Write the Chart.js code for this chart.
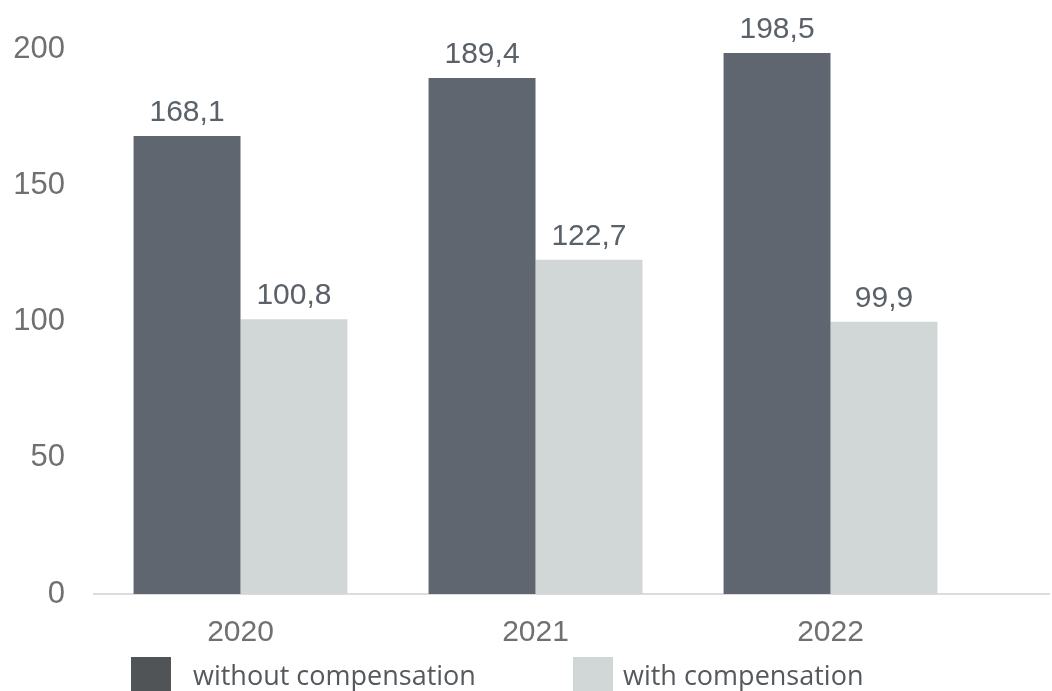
<!DOCTYPE html>
<html>
<head>
<meta charset="utf-8">
<script src="https://cdn.jsdelivr.net/npm/chart.js@4.4.1/dist/chart.umd.min.js"></script>
<style>
  html, body { margin: 0; padding: 0; background: #ffffff; }
  #wrap { width: 1052px; height: 691px; position: relative; }
</style>
</head>
<body>
<div id="wrap"><canvas id="emissionsChart"></canvas></div>
<script>
const years = ['2020', '2021', '2022'];
const seriesNames = ['without compensation', 'with compensation'];
const withoutCompensation = [168.1, 189.4, 198.5];
const withCompensation = [100.8, 122.7, 99.9];
const yTicks = [0, 50, 100, 150, 200];

const barColors = ['#5f6670', '#d1d6d6'];
const legendColors = ['#505457', '#d1d6d6'];

// values are written with a decimal comma
const fmt = v => v.toFixed(1).replace('.', ',');

// baseline that runs past the last category to the right edge
const baselinePlugin = {
  id: 'baseline',
  beforeDatasetsDraw(chart) {
    const { ctx, chartArea, scales } = chart;
    const y = scales.y.getPixelForValue(0);
    ctx.save();
    ctx.strokeStyle = '#dcdcdc';
    ctx.lineWidth = 2;
    ctx.beginPath();
    ctx.moveTo(chartArea.left, y);
    ctx.lineTo(chart.width - 2, y);
    ctx.stroke();
    ctx.restore();
  }
};

// value labels above each bar
const valueLabelPlugin = {
  id: 'valueLabels',
  afterDatasetsDraw(chart) {
    const { ctx } = chart;
    ctx.save();
    ctx.font = '30px "Liberation Sans", Arial, sans-serif';
    ctx.fillStyle = '#5b6169';
    ctx.textAlign = 'center';
    ctx.textBaseline = 'alphabetic';
    chart.data.datasets.forEach((ds, i) => {
      chart.getDatasetMeta(i).data.forEach((bar, j) => {
        ctx.fillText(fmt(ds.data[j]), bar.x, bar.y - 15);
      });
    });
    ctx.restore();
  }
};

// legend row along the bottom edge
const bottomLegendPlugin = {
  id: 'bottomLegend',
  afterDraw(chart, args, opts) {
    const { ctx } = chart;
    ctx.save();
    ctx.font = opts.font;
    ctx.textBaseline = 'alphabetic';
    ctx.textAlign = 'left';
    chart.data.datasets.forEach((ds, i) => {
      ctx.fillStyle = legendColors[i];
      ctx.fillRect(opts.boxLeft[i], opts.boxTop, opts.boxSize, opts.boxSize);
      ctx.fillStyle = '#55595d';
      ctx.fillText(ds.label, opts.textLeft[i], opts.textBaseline);
    });
    ctx.restore();
  }
};

new Chart(document.getElementById('emissionsChart'), {
  type: 'bar',
  data: {
    labels: years,
    datasets: [
      { label: seriesNames[0], data: withoutCompensation, backgroundColor: barColors[0] },
      { label: seriesNames[1], data: withCompensation, backgroundColor: barColors[1] }
    ]
  },
  options: {
    responsive: true,
    maintainAspectRatio: false,
    animation: false,
    layout: { padding: { top: 49, right: 74, bottom: 0, left: 0 } },
    datasets: { bar: { categoryPercentage: 0.725, barPercentage: 1.0 } },
    scales: {
      x: {
        grid: { display: false },
        border: { display: false },
        ticks: {
          color: '#707070',
          font: { family: '"Liberation Sans", Arial, sans-serif', size: 30 },
          padding: 13
        },
        afterFit(scale) { scale.height = 97; }
      },
      y: {
        min: 0,
        max: 200,
        grid: { display: false },
        border: { display: false },
        afterBuildTicks(scale) { scale.ticks = yTicks.map(v => ({ value: v })); },
        ticks: {
          color: '#707070',
          font: { family: '"Liberation Sans", Arial, sans-serif', size: 31 },
          padding: 20
        },
        afterFit(scale) { scale.width = 93; }
      }
    },
    plugins: {
      legend: { display: false },
      tooltip: { enabled: false },
      bottomLegend: {
        font: '27px "Open Sans", sans-serif',
        boxLeft: [131, 573],
        textLeft: [193, 623],
        boxTop: 657,
        boxSize: 40,
        textBaseline: 685
      }
    }
  },
  plugins: [baselinePlugin, valueLabelPlugin, bottomLegendPlugin]
});
</script>
</body>
</html>
